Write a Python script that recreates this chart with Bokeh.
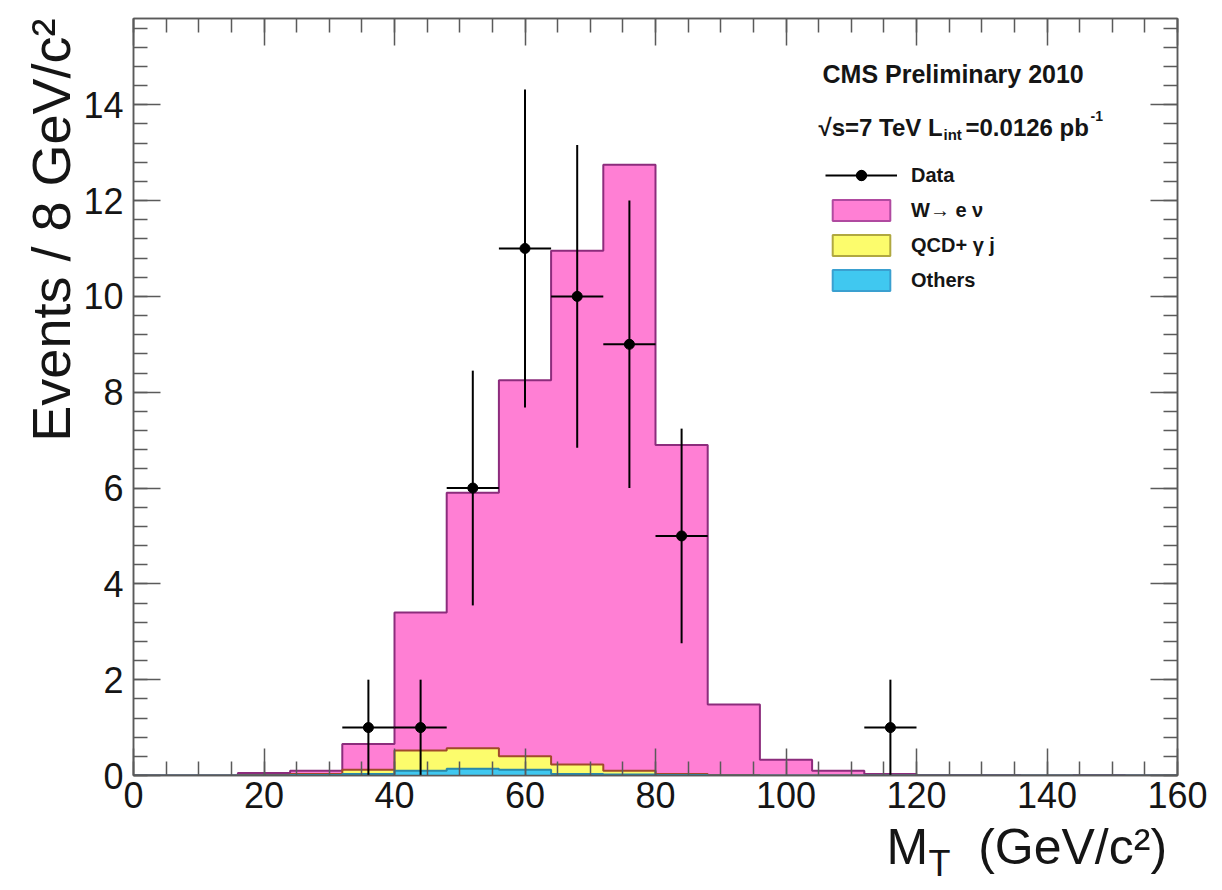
import numpy as np
from bokeh.plotting import figure
from bokeh.models import (Range1d, SingleIntervalTicker, LinearAxis, Label, Title,
                          Legend, LegendItem, CustomJSTickFormatter)
from bokeh.embed import file_html
from bokeh.resources import INLINE

# ---------------- data ----------------
bin_edges = [0, 8, 16, 24, 32, 40, 48, 56, 64, 72, 80, 88, 96, 104, 112,
             120, 128, 136, 144, 152, 160]
others = [0, 0, 0.0, 0.01, 0.03, 0.10, 0.14, 0.12, 0.03, 0.02, 0.01, 0.0,
          0, 0, 0, 0, 0, 0, 0, 0]
qcd = [0, 0, 0.01, 0.02, 0.09, 0.42, 0.43, 0.28, 0.20, 0.08, 0.02, 0.01,
       0, 0, 0, 0, 0, 0, 0, 0]
wenu = [0, 0, 0.04, 0.07, 0.54, 2.88, 5.33, 7.85, 10.72, 12.65, 6.87, 1.47,
        0.33, 0.10, 0.03, 0.01, 0.01, 0.0, 0.01, 0]

data_x = [36, 44, 52, 60, 68, 76, 84, 116]
data_y = [1, 1, 6, 11, 10, 9, 5, 1]
data_err = [1.0, 1.0, 2.45, 3.32, 3.16, 3.0, 2.24, 1.0]
data_xerr = [4, 4, 4, 4, 4, 4, 4, 4]

x_ticks_interval = 20
y_ticks_interval = 2

# ---------------- styles ----------------
FONT = "Liberation Sans"
PINK, PINK_LINE = "#ff7fd4", "#8c2c7c"
YELL, YELL_LINE = "#fcfc6c", "#a04a2a"
CYAN, CYAN_LINE = "#40c8f0", "#2a88a8"
FRAME = "#5a5a5a"
TXT = "#151515"

p = figure(width=1222, height=890, x_range=Range1d(0, 160), y_range=Range1d(0, 15.8),
           output_backend="svg", toolbar_location=None,
           min_border_left=133, min_border_right=45, min_border_top=18,
           min_border_bottom=115, background_fill_color="white",
           border_fill_color="white")
p.xgrid.visible = False
p.ygrid.visible = False
p.outline_line_color = FRAME
p.outline_line_width = 1.5

# stacked cumulative values
o = np.array(others)
q = o + np.array(qcd)
t = q + np.array(wenu)
lefts = bin_edges[:-1]
rights = bin_edges[1:]

def ext(a):
    return list(a) + [a[-1]]

p.varea_step(x=bin_edges, y1=ext(q), y2=ext(t), step_mode="after", fill_color=PINK)
p.varea_step(x=bin_edges, y1=ext(o), y2=ext(q), step_mode="after", fill_color=YELL)
p.varea_step(x=bin_edges, y1=[0] * len(bin_edges), y2=ext(o), step_mode="after", fill_color=CYAN)
p.step(x=bin_edges, y=ext(t), mode="after", line_color=PINK_LINE, line_width=2)
p.step(x=bin_edges, y=ext(q), mode="after", line_color=YELL_LINE, line_width=2)
p.step(x=bin_edges, y=ext(o), mode="after", line_color=CYAN_LINE, line_width=2)

# data points with error bars
dx = np.array(data_x, dtype=float)
dy = np.array(data_y, dtype=float)
de = np.array(data_err)
dxe = np.array(data_xerr)
r_ex = p.segment(x0=dx - dxe, y0=dy, x1=dx + dxe, y1=dy, line_color="black", line_width=2)
p.segment(x0=dx, y0=dy - de, x1=dx, y1=dy + de, line_color="black", line_width=2)
r_dot = p.scatter(x=dx, y=dy, size=10, marker="circle", fill_color="black", line_color="black")

# legend proxies (hidden copies of the same data, used for the legend swatches)
r_cross = p.scatter(x=dx, y=dy, marker="cross", size=10, line_color="black",
                    line_width=2, visible=False)
r_lw = p.quad(left=lefts, right=rights, bottom=q, top=t, fill_color=PINK,
              line_color="#b04aa0", line_width=2, visible=False)
r_lq = p.quad(left=lefts, right=rights, bottom=o, top=q, fill_color=YELL,
              line_color="#b0a840", line_width=2, visible=False)
r_lo = p.quad(left=lefts, right=rights, bottom=0, top=o, fill_color=CYAN,
              line_color="#3aa0d0", line_width=2, visible=False)

legend = Legend(items=[
    LegendItem(label="Data", renderers=[r_ex, r_dot, r_cross]),
    LegendItem(label="W\u2192 e \u03bd", renderers=[r_lw]),
    LegendItem(label="QCD+ \u03b3 j", renderers=[r_lq]),
    LegendItem(label="Others", renderers=[r_lo]),
], location=(692, 482), glyph_width=72, glyph_height=26, label_height=26,
    spacing=9, padding=0, margin=0, label_standoff=14,
    label_text_font=FONT, label_text_font_size="20px", label_text_font_style="bold",
    label_text_color=TXT, border_line_alpha=0, background_fill_alpha=0,
    inactive_fill_alpha=0)
p.add_layout(legend)

# axes
def style_axis(ax, interval, nminor, labels=True):
    ax.ticker = SingleIntervalTicker(interval=interval, num_minor_ticks=nminor)
    ax.axis_line_color = FRAME
    ax.axis_line_width = 1.5
    ax.major_tick_line_color = FRAME
    ax.minor_tick_line_color = FRAME
    ax.major_tick_line_width = 1.5
    ax.minor_tick_line_width = 1.5
    ax.major_tick_in = 27
    ax.major_tick_out = 0
    ax.minor_tick_in = 14
    ax.minor_tick_out = 0
    ax.major_label_text_font = FONT
    ax.major_label_text_font_size = "36px"
    ax.major_label_text_color = TXT
    if not labels:
        ax.formatter = CustomJSTickFormatter(code="return ''")

style_axis(p.xaxis[0], x_ticks_interval, 4)
style_axis(p.yaxis[0], y_ticks_interval, 5)
p.xaxis[0].major_label_standoff = 6
p.yaxis[0].major_label_standoff = 10

top_ax = LinearAxis()
style_axis(top_ax, x_ticks_interval, 4, labels=False)
p.add_layout(top_ax, "above")
right_ax = LinearAxis()
style_axis(right_ax, y_ticks_interval, 5, labels=False)
p.add_layout(right_ax, "right")

# axis titles
p.add_layout(Title(text="Events / 8 GeV/c\u00b2", align="right", text_font=FONT,
                   text_font_size="54px", text_font_style="normal", text_color=TXT,
                   standoff=0, offset=0), "left")

# x title: main part in the panel below the x axis, subscript in the right panel
p.add_layout(Label(x=753, y=20, x_units="screen", y_units="screen",
                   text="M\u2003(GeV/c\u00b2)", text_align="left",
                   text_baseline="alphabetic", text_font=FONT, text_font_size="50px",
                   text_color=TXT), "below")
p.add_layout(Label(x=-249, y=-88, x_units="screen", y_units="screen", text="T",
                   text_align="left", text_baseline="alphabetic", text_font=FONT,
                   text_font_size="36px", text_color=TXT), "right")

# info texts
def info(x, y, text, size):
    p.add_layout(Label(x=x, y=y, x_units="screen", y_units="screen", text=text,
                       text_align="left", text_baseline="alphabetic", text_font=FONT,
                       text_font_size=size, text_font_style="bold", text_color=TXT))

info(689, 702, "CMS Preliminary 2010", "25px")
info(685, 648, "\u221as=7 TeV L", "24px")
info(810, 641, "int", "15px")
info(832, 648, "=0.0126 pb", "24px")
info(957, 660, "-1", "14px")

open("out.html", "w").write(file_html(p, INLINE))
